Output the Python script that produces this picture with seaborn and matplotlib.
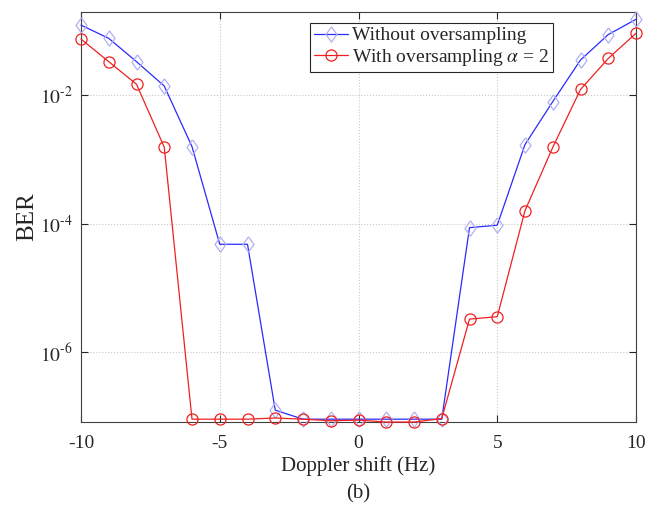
import numpy as np
import pandas as pd
import matplotlib
matplotlib.use("Agg")
import matplotlib.pyplot as plt
import seaborn as sns

doppler = [-10, -9, -8, -7, -6, -5, -4, -3, -2, -1, 0, 1, 2, 3, 4, 5, 6, 7, 8, 9, 10]
ber_without = [0.122, 0.076, 0.033, 0.0138, 1.58e-3, 4.8e-5, 4.8e-5, 1.27e-7, 9.2e-8, 9.2e-8,
               9.2e-8, 9.2e-8, 9.2e-8, 9.2e-8, 8.7e-5, 9.5e-5, 1.7e-3, 7.9e-3, 0.035, 0.087, 0.15]
ber_with = [0.074, 0.033, 0.0147, 1.55e-3, 9.2e-8, 9.2e-8, 9.2e-8, 9.6e-8, 9.2e-8, 8.7e-8,
            8.9e-8, 8.3e-8, 8.3e-8, 9.4e-8, 3.3e-6, 3.6e-6, 1.6e-4, 1.54e-3, 0.0122, 0.037, 0.091]
labels = ["Without oversampling", r"With oversampling $\alpha$ = 2"]
xticks = [-10, -5, 0, 5, 10]
xticklabels = ["-10", "-5", "0", "5", "10"]
yticks = [1e-6, 1e-4, 1e-2]
yticklabels = [r"$10^{\text{-6}}$", r"$10^{\text{-4}}$", r"$10^{\text{-2}}$"]

sns.set_style("ticks")
plt.rcParams["font.family"] = ["Liberation Serif", "DejaVu Serif"]
plt.rcParams["mathtext.fontset"] = "stix"

df1 = pd.DataFrame({"x": doppler, "y": ber_without})
df2 = pd.DataFrame({"x": doppler, "y": ber_with})

diamond = [(0, 1), (0.72, 0), (0, -1), (-0.72, 0), (0, 1)]

fig = plt.figure(figsize=(6.61, 5.08), dpi=100)
ax = fig.add_axes([81/661, 1-422/508, (636-81)/661, (422-12)/508])

sns.lineplot(data=df1, x="x", y="y", ax=ax, color="#2a2aff", linewidth=0.9,
             marker=diamond, markersize=11, markerfacecolor="none",
             markeredgecolor="#b0b0f2", markeredgewidth=0.9, label=labels[0],
             clip_on=False, zorder=3)
sns.lineplot(data=df2, x="x", y="y", ax=ax, color="#f02020", linewidth=0.9,
             marker="o", markersize=8, markerfacecolor="none",
             markeredgecolor="#f02020", markeredgewidth=0.9, label=labels[1],
             clip_on=False, zorder=4)

ax.set_yscale("log")
ax.set_xlim(-10, 10)
ax.set_ylim(10**-7.08, 10**-0.71)
ax.set_xticks(xticks)
ax.set_xticklabels(xticklabels)
ax.set_yticks(yticks)
ax.set_yticklabels(yticklabels)
ax.yaxis.set_minor_locator(matplotlib.ticker.NullLocator())
ax.xaxis.set_minor_locator(matplotlib.ticker.NullLocator())
ax.grid(True, which="major", linestyle=":", color="#c8c8c8", linewidth=0.8)
ax.tick_params(direction="in", top=True, right=True, length=5, width=0.8,
               labelsize=14, colors="#262626")
ax.tick_params(axis="x", pad=9)
ax.tick_params(axis="y", pad=6)
for s in ax.spines.values():
    s.set_color("#404040")
    s.set_linewidth(0.8)
    s.set_visible(True)

ax.set_xlabel("Doppler shift (Hz)", fontsize=15, color="#262626", labelpad=3)
ax.set_ylabel("BER", fontsize=18, color="#262626", labelpad=1)

leg = ax.legend(loc="upper right", bbox_to_anchor=(553/661, 1-23/508),
                bbox_transform=fig.transFigure, fontsize=14, frameon=True,
                fancybox=False, framealpha=1, edgecolor="#262626",
                handlelength=1.75, handletextpad=0.2, labelspacing=0.12,
                borderpad=0.2, borderaxespad=0)
leg.get_frame().set_linewidth(0.8)

fig.text(358.5/661, 1-494/508, "(b)", ha="center", va="center", fontsize=15, color="#262626")

fig.savefig("out.png", dpi=100)
